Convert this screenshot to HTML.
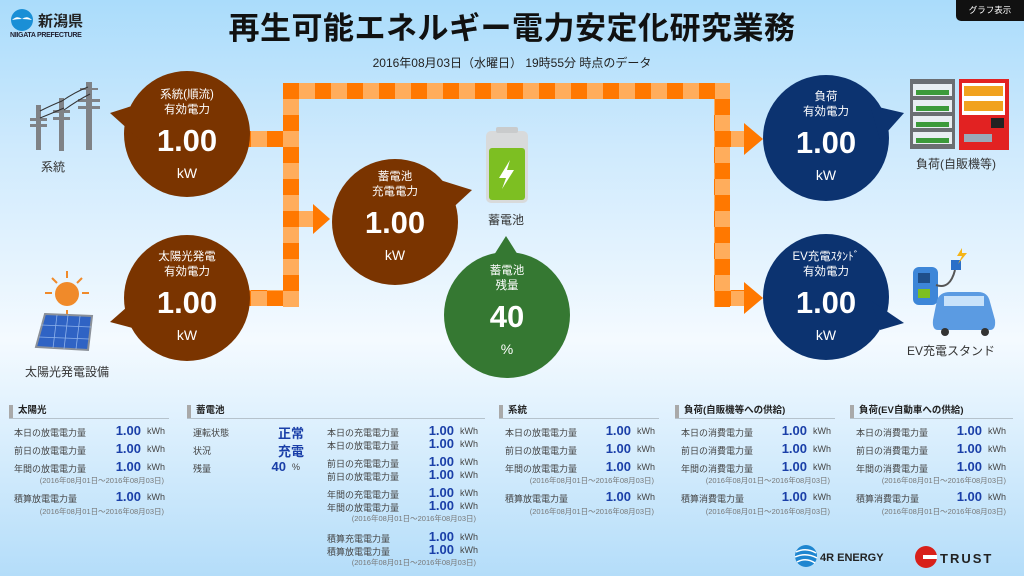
<!DOCTYPE html>
<html><head><meta charset="utf-8">
<style>
*{margin:0;padding:0;box-sizing:border-box}
body{width:1024px;height:576px;overflow:hidden;position:relative;font-family:"Liberation Sans","Noto Sans CJK JP",sans-serif;
background:linear-gradient(#aadcfb 0px,#cfeafd 150px,#f4faff 340px,#e4f3fe 400px,#b4ddf9 576px);}
.a{position:absolute}
.t{position:absolute;white-space:nowrap}
.b{position:absolute;color:#fff;text-align:center}
.b .l{font-size:11.5px;line-height:15px}
.b .v{font-size:31px;font-weight:bold;line-height:36px;margin-top:5px}
.b .u{font-size:14px;line-height:20px;margin-top:4px}
.hd{position:absolute;height:14px;border-bottom:1px solid #b5c2cc;font-size:9.5px;font-weight:bold;color:#222;padding-left:9px;line-height:12px}
.hd:before{content:"";position:absolute;left:0;top:0;width:4px;height:13px;background:#a9a9a9}
.r{position:absolute;font-size:9px;color:#444;white-space:nowrap}
.n{position:absolute;font-size:13px;font-weight:bold;color:#1a3fa8;text-align:right;width:50px;white-space:nowrap}
.k{position:absolute;font-size:9px;color:#444}
.d{position:absolute;font-size:7.5px;color:#777;white-space:nowrap;text-align:right;width:160px}
</style></head><body>

<!-- logo -->
<svg class="a" style="left:10px;top:8px" width="26" height="24"><circle cx="12" cy="12" r="11" fill="#1a8fd6"/><path d="M2 12 Q7 7 12 11 Q17 7 22 12 Q12 10 2 12Z" fill="#fff"/></svg>
<div class="t" style="left:38px;top:10px;font-size:15px;font-weight:bold;color:#222">新潟県</div>
<div class="t" style="left:10px;top:32px;font-size:7px;font-weight:bold;color:#223;letter-spacing:-0.3px">NIIGATA PREFECTURE</div>

<div class="t" style="left:0;width:1024px;text-align:center;top:3px;font-size:31px;font-weight:bold;color:#111;letter-spacing:0.5px">再生可能エネルギー電力安定化研究業務</div>
<div class="t" style="left:0;width:1024px;text-align:center;top:54px;font-size:12px;color:#222">2016年08月03日（水曜日） 19時55分 時点のデータ</div>
<div class="a" style="left:956px;top:0;width:68px;height:21px;background:#111;border-radius:0 0 0 5px;color:#fff;font-size:8.5px;text-align:center;line-height:20px">グラフ表示</div>

<!-- pipes -->
<svg class="a" style="left:0;top:0" width="1024" height="400">
<defs>
<pattern id="ck" x="283" y="83" width="32" height="32" patternUnits="userSpaceOnUse">
<rect width="32" height="32" fill="#ffad5c"/><rect width="16" height="16" fill="#ff7800"/><rect x="16" y="16" width="16" height="16" fill="#ff7800"/>
</pattern>
</defs>
<g fill="url(#ck)">
<rect x="283" y="83" width="447" height="16"/>
<rect x="283" y="83" width="16" height="224"/>
<rect x="714" y="83" width="16" height="224"/>
<rect x="248" y="131" width="35" height="16"/>
<rect x="248" y="290" width="35" height="16"/>
<rect x="299" y="211" width="14" height="16"/>
<rect x="730" y="131" width="14" height="16"/>
<rect x="730" y="290" width="14" height="16"/>
</g>
<g fill="#ff7800">
<polygon points="313,204 330,219 313,234"/>
<polygon points="744,123 763,139 744,155"/>
<polygon points="744,282 763,298 744,314"/>
</g>
<!-- bubbles -->
<g fill="#7a3400">
<circle cx="187" cy="134" r="63"/><polygon points="110,113 135,105 140,140"/>
<circle cx="187" cy="298" r="63"/><polygon points="110,322 135,300 140,330"/>
<circle cx="395" cy="222" r="63"/><polygon points="472,190 440,180 445,215"/>
</g>
<g fill="#357832"><circle cx="507" cy="315" r="63"/><polygon points="506,236 494,255 518,255"/></g>
<g fill="#0c3370">
<circle cx="826" cy="138" r="63"/><polygon points="904,113 870,105 880,140"/>
<circle cx="826" cy="297" r="63"/><polygon points="904,323 870,300 880,330"/>
</g>
<!-- poles -->
<g fill="#7f8286">
<rect x="36" y="105" width="5" height="45"/><rect x="59" y="98" width="5" height="53"/><rect x="86" y="82" width="6" height="68"/>
<rect x="30" y="118" width="17" height="3"/><rect x="30" y="124" width="17" height="3"/><rect x="53" y="110" width="17" height="3"/><rect x="53" y="117" width="17" height="3"/><rect x="78" y="99" width="22" height="3"/><rect x="78" y="106" width="22" height="3"/><rect x="80" y="88" width="18" height="2"/>
</g>
<path d="M40 111 Q52 105 62 101 M40 118 Q55 112 64 108 M62 101 Q75 92 88 87 M64 110 Q78 100 90 94" stroke="#333" fill="none" stroke-width="1"/>
<!-- sun & panel -->
<circle cx="67" cy="294" r="12" fill="#f08a2a"/>
<g stroke="#f08a2a" stroke-width="2"><line x1="67" y1="271" x2="67" y2="278"/><line x1="67" y1="310" x2="67" y2="316"/><line x1="45" y1="293" x2="52" y2="293"/><line x1="82" y1="293" x2="89" y2="293"/><line x1="52" y1="278" x2="57" y2="283"/><line x1="82" y1="278" x2="77" y2="283"/></g>
<polygon points="45,314 92,316 88,350 36,347" fill="#2f63c4" stroke="#8a9099" stroke-width="2"/>
<g stroke="#8fb2ea" stroke-width="0.8"><line x1="57" y1="315" x2="53" y2="348"/><line x1="68" y1="315" x2="64" y2="349"/><line x1="80" y1="316" x2="76" y2="349"/><line x1="41" y1="325" x2="91" y2="327"/><line x1="39" y1="337" x2="89" y2="339"/></g>
<!-- battery -->
<rect x="486" y="131" width="42" height="72" rx="5" fill="#d8dadb"/>
<rect x="496" y="127" width="22" height="6" rx="2" fill="#c9cbcc"/>
<rect x="489" y="148" width="36" height="52" rx="3" fill="#7dbf22"/>
<polygon points="510,160 499,178 506,178 502,189 514,170 507,170" fill="#fff"/>
<!-- shelf & vending -->
<rect x="910" y="79" width="45" height="70" fill="#6b6e72"/>
<g fill="#e9eef2"><rect x="913" y="84" width="39" height="12"/><rect x="913" y="100" width="39" height="12"/><rect x="913" y="116" width="39" height="12"/><rect x="913" y="132" width="39" height="12"/></g>
<g fill="#3c9a3a"><rect x="916" y="90" width="33" height="5"/><rect x="916" y="106" width="33" height="5"/><rect x="916" y="122" width="33" height="5"/><rect x="916" y="138" width="33" height="5"/></g>
<rect x="959" y="79" width="50" height="71" fill="#e22222"/>
<rect x="962" y="83" width="43" height="32" fill="#fff"/>
<g fill="#f1a21e"><rect x="964" y="86" width="39" height="10"/><rect x="964" y="101" width="39" height="10"/></g>
<rect x="991" y="118" width="13" height="10" fill="#222"/>
<rect x="964" y="134" width="28" height="8" fill="#9aa9b8"/>
<!-- EV -->
<rect x="913" y="267" width="25" height="38" rx="6" fill="#3d86d8"/>
<rect x="918" y="273" width="12" height="10" fill="#1f4f8a"/>
<rect x="918" y="289" width="12" height="9" fill="#7dbf22"/>
<path d="M936 285 Q950 290 955 270" stroke="#555" stroke-width="2" fill="none"/>
<rect x="951" y="260" width="10" height="10" fill="#2a6fc8"/>
<polygon points="962,248 957,256 962,256 958,264 967,253 962,253" fill="#f5b417"/>
<path d="M933 320 L937 300 Q940 292 950 292 L978 292 Q988 292 990 302 L995 320 Q996 330 990 330 L938 330 Q932 330 933 320Z" fill="#5b9be2"/>
<rect x="944" y="296" width="40" height="10" fill="#c8e2fa"/>
<circle cx="945" cy="332" r="4" fill="#333"/><circle cx="985" cy="332" r="4" fill="#333"/>
</svg>

<div class="t" style="left:41px;top:158px;font-size:12px;color:#333">系統</div>
<div class="t" style="left:25px;top:363px;font-size:12px;color:#333">太陽光発電設備</div>
<div class="t" style="left:488px;top:211px;font-size:12px;color:#333">蓄電池</div>
<div class="t" style="left:916px;top:155px;font-size:12px;color:#333">負荷(自販機等)</div>
<div class="t" style="left:907px;top:342px;font-size:12px;color:#333">EV充電スタンド</div>

<div class="b" style="left:137px;top:88px;width:100px"><div class="l">系統(順流)<br>有効電力</div><div class="v">1.00</div><div class="u">kW</div></div>
<div class="b" style="left:137px;top:250px;width:100px"><div class="l">太陽光発電<br>有効電力</div><div class="v">1.00</div><div class="u">kW</div></div>
<div class="b" style="left:345px;top:170px;width:100px"><div class="l">蓄電池<br>充電電力</div><div class="v">1.00</div><div class="u">kW</div></div>
<div class="b" style="left:457px;top:264px;width:100px"><div class="l">蓄電池<br>残量</div><div class="v">40</div><div class="u">%</div></div>
<div class="b" style="left:776px;top:90px;width:100px"><div class="l">負荷<br>有効電力</div><div class="v">1.00</div><div class="u">kW</div></div>
<div class="b" style="left:776px;top:250px;width:100px"><div class="l">EV充電ｽﾀﾝﾄﾞ<br>有効電力</div><div class="v">1.00</div><div class="u">kW</div></div>

<!-- panels -->
<div class="hd" style="left:9px;top:405px;width:160px">太陽光</div>
<div class="r" style="left:14px;top:426px">本日の放電電力量</div><div class="n" style="left:91px;top:423px">1.00</div><div class="k" style="left:147px;top:426px">kWh</div>
<div class="r" style="left:14px;top:444px">前日の放電電力量</div><div class="n" style="left:91px;top:441px">1.00</div><div class="k" style="left:147px;top:444px">kWh</div>
<div class="r" style="left:14px;top:462px">年間の放電電力量</div><div class="n" style="left:91px;top:459px">1.00</div><div class="k" style="left:147px;top:462px">kWh</div>
<div class="d" style="left:4px;top:475px">(2016年08月01日～2016年08月03日)</div>
<div class="r" style="left:14px;top:492px">積算放電電力量</div><div class="n" style="left:91px;top:489px">1.00</div><div class="k" style="left:147px;top:492px">kWh</div>
<div class="d" style="left:4px;top:506px">(2016年08月01日～2016年08月03日)</div>

<div class="hd" style="left:187px;top:405px;width:298px">蓄電池</div>
<div class="r" style="left:193px;top:426px">運転状態</div><div class="n" style="left:254px;top:423px">正常</div>
<div class="r" style="left:193px;top:444px">状況</div><div class="n" style="left:254px;top:441px">充電</div>
<div class="r" style="left:193px;top:462px">残量</div><div class="n" style="left:236px;top:459px">40</div><div class="k" style="left:292px;top:462px">%</div>
<div class="r" style="left:327px;top:426px">本日の充電電力量</div><div class="n" style="left:404px;top:423px">1.00</div><div class="k" style="left:460px;top:426px">kWh</div>
<div class="r" style="left:327px;top:439px">本日の放電電力量</div><div class="n" style="left:404px;top:436px">1.00</div><div class="k" style="left:460px;top:439px">kWh</div>
<div class="r" style="left:327px;top:457px">前日の充電電力量</div><div class="n" style="left:404px;top:454px">1.00</div><div class="k" style="left:460px;top:457px">kWh</div>
<div class="r" style="left:327px;top:470px">前日の放電電力量</div><div class="n" style="left:404px;top:467px">1.00</div><div class="k" style="left:460px;top:470px">kWh</div>
<div class="r" style="left:327px;top:488px">年間の充電電力量</div><div class="n" style="left:404px;top:485px">1.00</div><div class="k" style="left:460px;top:488px">kWh</div>
<div class="r" style="left:327px;top:501px">年間の放電電力量</div><div class="n" style="left:404px;top:498px">1.00</div><div class="k" style="left:460px;top:501px">kWh</div>
<div class="d" style="left:316px;top:513px">(2016年08月01日～2016年08月03日)</div>
<div class="r" style="left:327px;top:532px">積算充電電力量</div><div class="n" style="left:404px;top:529px">1.00</div><div class="k" style="left:460px;top:532px">kWh</div>
<div class="r" style="left:327px;top:545px">積算放電電力量</div><div class="n" style="left:404px;top:542px">1.00</div><div class="k" style="left:460px;top:545px">kWh</div>
<div class="d" style="left:316px;top:557px">(2016年08月01日～2016年08月03日)</div>

<div class="hd" style="left:499px;top:405px;width:160px">系統</div>
<div class="r" style="left:505px;top:426px">本日の放電電力量</div><div class="n" style="left:581px;top:423px">1.00</div><div class="k" style="left:637px;top:426px">kWh</div>
<div class="r" style="left:505px;top:444px">前日の放電電力量</div><div class="n" style="left:581px;top:441px">1.00</div><div class="k" style="left:637px;top:444px">kWh</div>
<div class="r" style="left:505px;top:462px">年間の放電電力量</div><div class="n" style="left:581px;top:459px">1.00</div><div class="k" style="left:637px;top:462px">kWh</div>
<div class="d" style="left:494px;top:475px">(2016年08月01日～2016年08月03日)</div>
<div class="r" style="left:505px;top:492px">積算放電電力量</div><div class="n" style="left:581px;top:489px">1.00</div><div class="k" style="left:637px;top:492px">kWh</div>
<div class="d" style="left:494px;top:506px">(2016年08月01日～2016年08月03日)</div>

<div class="hd" style="left:675px;top:405px;width:160px">負荷(自販機等への供給)</div>
<div class="r" style="left:681px;top:426px">本日の消費電力量</div><div class="n" style="left:757px;top:423px">1.00</div><div class="k" style="left:813px;top:426px">kWh</div>
<div class="r" style="left:681px;top:444px">前日の消費電力量</div><div class="n" style="left:757px;top:441px">1.00</div><div class="k" style="left:813px;top:444px">kWh</div>
<div class="r" style="left:681px;top:462px">年間の消費電力量</div><div class="n" style="left:757px;top:459px">1.00</div><div class="k" style="left:813px;top:462px">kWh</div>
<div class="d" style="left:670px;top:475px">(2016年08月01日～2016年08月03日)</div>
<div class="r" style="left:681px;top:492px">積算消費電力量</div><div class="n" style="left:757px;top:489px">1.00</div><div class="k" style="left:813px;top:492px">kWh</div>
<div class="d" style="left:670px;top:506px">(2016年08月01日～2016年08月03日)</div>

<div class="hd" style="left:850px;top:405px;width:163px">負荷(EV自動車への供給)</div>
<div class="r" style="left:856px;top:426px">本日の消費電力量</div><div class="n" style="left:932px;top:423px">1.00</div><div class="k" style="left:988px;top:426px">kWh</div>
<div class="r" style="left:856px;top:444px">前日の消費電力量</div><div class="n" style="left:932px;top:441px">1.00</div><div class="k" style="left:988px;top:444px">kWh</div>
<div class="r" style="left:856px;top:462px">年間の消費電力量</div><div class="n" style="left:932px;top:459px">1.00</div><div class="k" style="left:988px;top:462px">kWh</div>
<div class="d" style="left:846px;top:475px">(2016年08月01日～2016年08月03日)</div>
<div class="r" style="left:856px;top:492px">積算消費電力量</div><div class="n" style="left:932px;top:489px">1.00</div><div class="k" style="left:988px;top:492px">kWh</div>
<div class="d" style="left:846px;top:506px">(2016年08月01日～2016年08月03日)</div>

<!-- bottom logos -->
<svg class="a" style="left:793px;top:543px" width="28" height="26"><ellipse cx="13" cy="13" rx="11" ry="11" fill="#1f86d0"/><path d="M3 9 Q13 4 23 10 M2 14 Q13 9 24 15 M4 19 Q13 14 22 20" stroke="#fff" stroke-width="1.5" fill="none"/></svg>
<div class="t" style="left:820px;top:552px;font-size:11px;font-weight:bold;color:#222">4R ENERGY</div>
<svg class="a" style="left:914px;top:545px" width="26" height="26"><circle cx="12" cy="12" r="11" fill="#d8201a"/><rect x="9" y="10" width="14" height="4" fill="#fff"/></svg>
<div class="t" style="left:940px;top:551px;font-size:13px;font-weight:bold;color:#222;letter-spacing:2px">TRUST</div>
</body></html>
